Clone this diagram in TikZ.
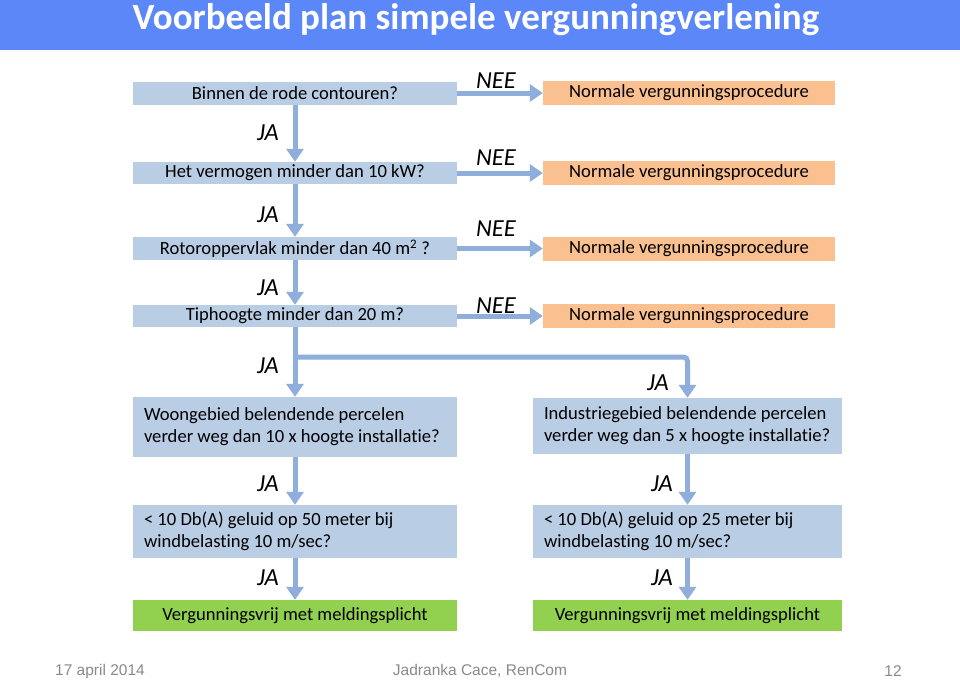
\documentclass[tikz,border=0pt]{standalone}
\usepackage{fontspec}
\setmainfont[Ligatures=NoCommon]{Carlito}
\newfontfamily\footfont{Liberation Sans}
\usetikzlibrary{arrows.meta}
\definecolor{titlebar}{HTML}{5B87F9}
\definecolor{boxblue}{HTML}{B9CDE5}
\definecolor{boxorange}{HTML}{FAC090}
\definecolor{boxgreen}{HTML}{92D050}
\definecolor{arrowblue}{HTML}{8FAEDC}
\definecolor{footgray}{HTML}{8A8A8A}
\tikzset{
  qbox/.style={fill=boxblue, minimum width=324pt, inner sep=0pt, font=\fontsize{18.6}{22}\selectfont},
  obox/.style={fill=boxorange, minimum width=292pt, minimum height=24pt, inner sep=0pt, font=\fontsize{18.6}{22}\selectfont},
  gbox/.style={fill=boxgreen, minimum height=31pt, inner sep=0pt, font=\fontsize{18.6}{22}\selectfont},
  tbox/.style={fill=boxblue, inner xsep=11pt, inner ysep=0pt, align=flush left, font=\fontsize{18.6}{22}\selectfont},
  flow/.style={draw=arrowblue, line width=5pt, -{Triangle[width=17pt,length=13pt]}},
  yn/.style={font=\fontsize{24.5}{27}\selectfont\itshape, inner sep=0pt},
  foot/.style={font=\footfont\fontsize{15.5}{17}\selectfont, text=footgray, inner sep=0pt}
}
\begin{document}
\begin{tikzpicture}[x=1pt,y=-1pt]
\useasboundingbox (0,0) rectangle (960,681);
\fill[white] (0,0) rectangle (960,681);
\fill[titlebar] (0,0) rectangle (960,50);
\node[text=white, font=\fontsize{37}{40}\selectfont\bfseries, inner sep=0pt] (title) at (476,20) {Voorbeeld plan simpele vergunningverlening};

% left question chain
\node[qbox, minimum height=23pt] (b1) at (295,93) {Binnen de rode contouren?};
\node[qbox, minimum height=22pt] (b2) at (295,173) {Het vermogen minder dan 10 kW?};
\node[qbox, minimum height=23pt] (b3) at (295,248.5) {Rotoroppervlak minder dan 40 m\textsuperscript{2} ?};
\node[qbox, minimum height=22pt] (b4) at (295,316) {Tiphoogte minder dan 20 m?};

% orange outcomes
\node[obox] (o1) at (689,93) {Normale vergunningsprocedure};
\node[obox] (o2) at (689,173) {Normale vergunningsprocedure};
\node[obox] (o3) at (689,248.5) {Normale vergunningsprocedure};
\node[obox] (o4) at (689,316) {Normale vergunningsprocedure};

% two-line boxes
\node[tbox, text width=302pt, minimum height=60pt] (b5) at (295,427) {Woongebied belendende percelen\\verder weg dan 10 x hoogte installatie?};
\node[tbox, text width=287pt, minimum height=56pt] (b6) at (687.5,426) {Industriegebied belendende percelen\\verder weg dan 5 x hoogte installatie?};
\node[tbox, text width=302pt, minimum height=53pt] (b7) at (295,531.5) {< 10 Db(A) geluid op 50 meter bij\\windbelasting 10 m/sec?};
\node[tbox, text width=287pt, minimum height=53pt] (b8) at (687.5,531.5) {< 10 Db(A) geluid op 25 meter bij\\windbelasting 10 m/sec?};

% green outcomes
\node[gbox, minimum width=324pt] (g1) at (295,615.5) {Vergunningsvrij met meldingsplicht};
\node[gbox, minimum width=309pt] (g2) at (687.5,615.5) {Vergunningsvrij met meldingsplicht};

% connectors
\draw[flow] (b1.south) -- (b2.north);
\draw[flow] (b2.south) -- (b3.north);
\draw[flow] (b3.south) -- (b4.north);
\draw[flow] (b4.south) -- (b5.north);
\draw[flow] (b1.east) -- (o1.west);
\draw[flow] (b2.east) -- (o2.west);
\draw[flow] (b3.east) -- (o3.west);
\draw[flow] (b4.east) -- (o4.west);
\coordinate (split) at (295,357);
\draw[flow, rounded corners=4pt] (split) -| (b6.north);
\draw[flow] (b5.south) -- (b7.north);
\draw[flow] (b6.south) -- (b8.north);
\draw[flow] (b7.south) -- (g1.north);
\draw[flow] (b8.south) -- (g2.north);

% labels
\node[yn] (nee1) at (496,81) {NEE};
\node[yn] (nee2) at (496,158) {NEE};
\node[yn] (nee3) at (496,229) {NEE};
\node[yn] (nee4) at (496,306) {NEE};
\node[yn] (ja1) at (268,133) {JA};
\node[yn] (ja2) at (268,215) {JA};
\node[yn] (ja3) at (268,288) {JA};
\node[yn] (ja4) at (268,366) {JA};
\node[yn] (ja5) at (658,383) {JA};
\node[yn] (ja6) at (268,484) {JA};
\node[yn] (ja7) at (662,484) {JA};
\node[yn] (ja8) at (268,578) {JA};
\node[yn] (ja9) at (662,578) {JA};

% footer
\node[foot] (f1) at (100,671) {17 april 2014};
\node[foot] (f2) at (480,671) {Jadranka Cace, RenCom};
\node[foot] (f3) at (893,671) {12};
\end{tikzpicture}
\end{document}
